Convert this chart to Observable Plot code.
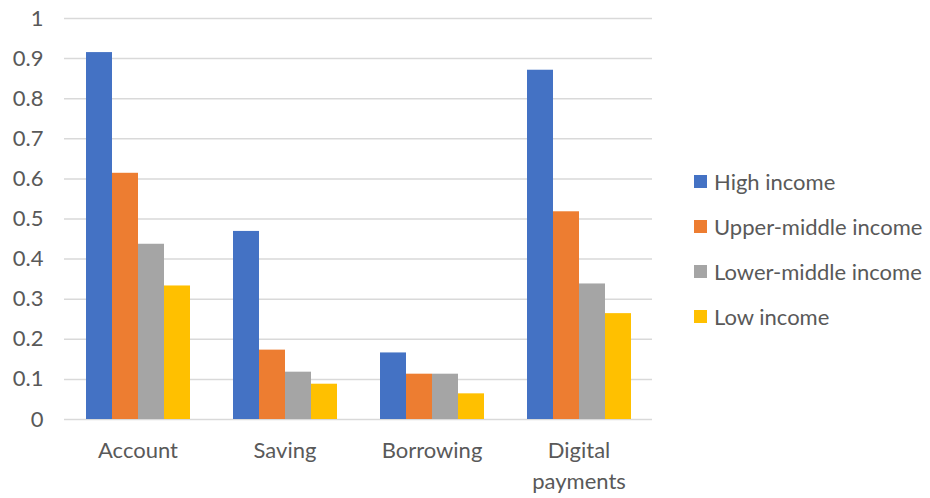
<!DOCTYPE html>
<html>
<head>
<meta charset="utf-8">
<script src="https://cdn.jsdelivr.net/npm/d3@7"></script>
<script src="https://cdn.jsdelivr.net/npm/@observablehq/plot@0.6"></script>
<style>
  html, body { margin: 0; padding: 0; background: #ffffff; }
  #wrap { position: relative; width: 930px; height: 498px; font-family: Lato, "Open Sans", sans-serif; color: #595959; }
  #chart { position: absolute; left: 0; top: 0; }
  .leg { position: absolute; left: 694px; display: flex; align-items: center; font-size: 22px; white-space: nowrap; height: 30px; }
  .sw { width: 13px; height: 13px; margin-right: 7px; }
</style>
</head>
<body>
<div id="wrap"><div id="chart"></div></div>
<script>
const categories = ["Account", "Saving", "Borrowing", "Digital payments"];
const groups = ["High income", "Upper-middle income", "Lower-middle income", "Low income"];
const colors = ["#4472C4", "#ED7D31", "#A5A5A5", "#FFC000"];
const highIncome = [0.915, 0.469, 0.166, 0.871];
const upperMiddleIncome = [0.614, 0.173, 0.113, 0.518];
const lowerMiddleIncome = [0.437, 0.118, 0.113, 0.338];
const lowIncome = [0.333, 0.088, 0.064, 0.264];
const yTicks = [0, 0.1, 0.2, 0.3, 0.4, 0.5, 0.6, 0.7, 0.8, 0.9, 1];

const series = [highIncome, upperMiddleIncome, lowerMiddleIncome, lowIncome];
const data = categories.flatMap((c, i) => groups.map((g, j) => ({category: c, group: g, value: series[j][i]})));

const chart = Plot.plot({
  width: 660,
  height: 498,
  marginLeft: 63,
  marginRight: 8,
  marginTop: 18,
  marginBottom: 79,
  style: {fontFamily: "Lato, 'Open Sans', sans-serif", fontSize: "22px", color: "#595959", background: "transparent"},
  fx: {domain: categories, padding: 0},
  x: {domain: groups, axis: null, paddingInner: 0, paddingOuter: 0.75},
  y: {domain: [0, 1], ticks: yTicks, tickSize: 0, tickPadding: 21, tickFormat: d3.format("~g"), label: null},
  color: {domain: groups, range: colors},
  marks: [
    Plot.gridY(yTicks, {stroke: "#d9d9d9", strokeOpacity: 1, strokeWidth: 1.5}),
    Plot.barY(data, {fx: "category", x: "group", y: "value", fill: "group"}),
    Plot.axisFx({anchor: "bottom", tickSize: 0, tickPadding: 17, lineHeight: 1.4, label: null,
      tickFormat: d => d === "Digital payments" ? "Digital\npayments" : d})
  ]
});
document.getElementById("chart").appendChild(chart);

const wrap = document.getElementById("wrap");
const legendY = [181, 226, 271, 316];
groups.forEach((g, i) => {
  const item = document.createElement("div");
  item.className = "leg";
  item.style.top = (legendY[i] - 15) + "px";
  const sw = document.createElement("div");
  sw.className = "sw";
  sw.style.background = colors[i];
  const label = document.createElement("span");
  label.textContent = g;
  item.appendChild(sw);
  item.appendChild(label);
  wrap.appendChild(item);
});
</script>
</body>
</html>
